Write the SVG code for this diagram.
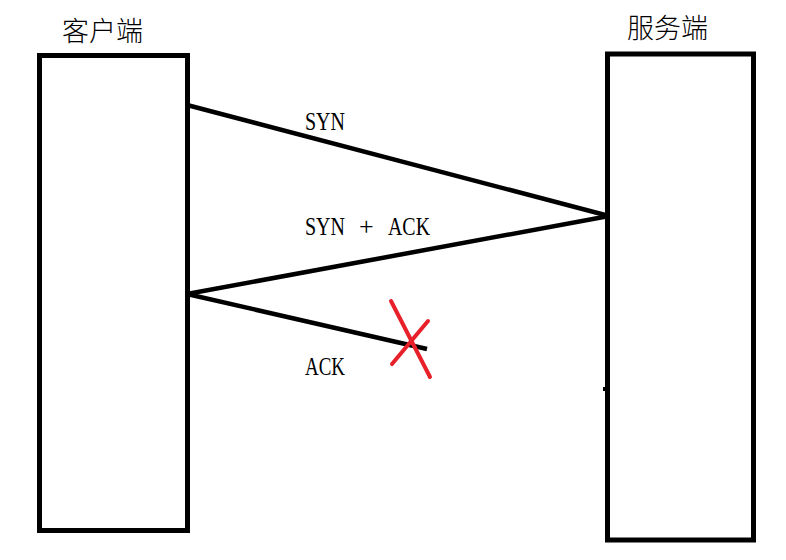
<svg xmlns="http://www.w3.org/2000/svg" width="786" height="560" viewBox="0 0 786 560">
<style>
.box{fill:#fff;stroke:#000;stroke-width:5}
.ln{stroke:#000;stroke-width:4.5;stroke-linecap:butt;fill:none}
.x{stroke:#e8202a;stroke-width:4;stroke-linecap:round}
.cjk{font-family:"Noto Sans CJK SC","Noto Sans",sans-serif;font-size:27px;font-weight:300;fill:#000}
.lat{font-family:"Liberation Serif",serif;font-size:26px;fill:#000}
</style>
<rect width="786" height="560" fill="#fff"/>
<g id="client">
<rect class="box" x="39.5" y="55.5" width="148" height="475"/>
<text class="cjk" x="62" y="41">客户端</text>
</g>
<g id="server">
<rect class="box" x="607.5" y="54" width="146" height="486"/>
<text class="cjk" x="627" y="38">服务端</text>
<rect x="603" y="387" width="3" height="4" fill="#000"/>
</g>
<g id="connectors">
<line class="ln" x1="187" y1="105" x2="609" y2="216"/>
<line class="ln" x1="609" y1="216" x2="187" y2="294"/>
<line class="ln" x1="187" y1="294" x2="427" y2="349"/>
<text class="lat" x="305" y="130" textLength="40" lengthAdjust="spacingAndGlyphs">SYN</text>
<text class="lat" y="235"><tspan x="305" textLength="40" lengthAdjust="spacingAndGlyphs">SYN</tspan> <tspan x="359">+</tspan> <tspan x="388" textLength="42" lengthAdjust="spacingAndGlyphs">ACK</tspan></text>
<text class="lat" x="305" y="375" textLength="40" lengthAdjust="spacingAndGlyphs">ACK</text>
</g>
<g id="cross">
<line class="x" x1="391" y1="301" x2="430" y2="377"/>
<line class="x" x1="428" y1="321" x2="392" y2="364"/>
</g>
</svg>
